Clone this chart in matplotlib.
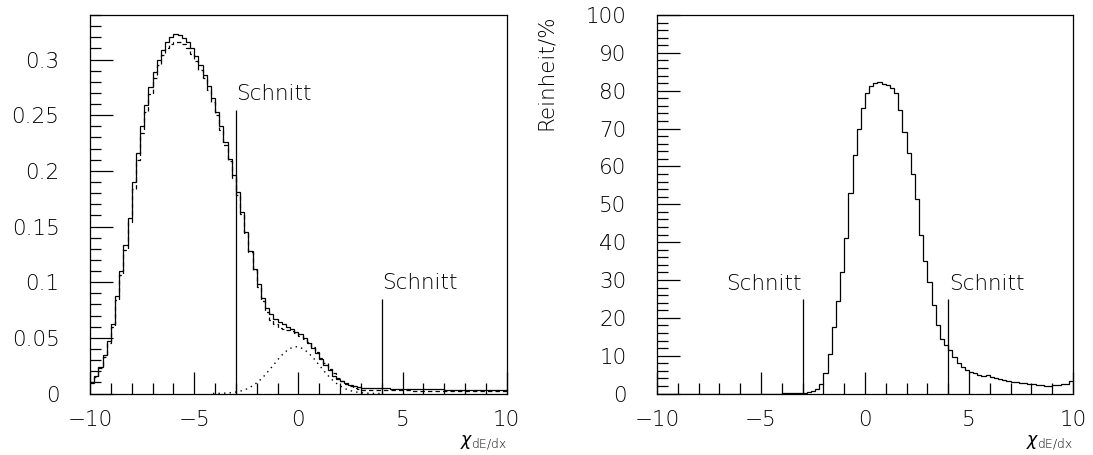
import numpy as np
import matplotlib
matplotlib.use("Agg")
import matplotlib.pyplot as plt
from matplotlib.ticker import MultipleLocator

plt.rcParams['font.family'] = ['DejaVu Sans']
plt.rcParams['font.weight'] = 'light'
plt.rcParams['mathtext.fontset'] = 'dejavusans'

# ---------------- data ----------------
x_range = (-10.0, 10.0)
n_bins = 100

# left panel: measured distribution (solid), total fit (dashed), second component (dotted)
left_data = [0.010, 0.016, 0.024, 0.035, 0.047, 0.062, 0.088, 0.110, 0.133, 0.158,
             0.190, 0.216, 0.240, 0.259, 0.275, 0.289, 0.300, 0.309, 0.316, 0.320,
             0.3225, 0.322, 0.3195, 0.3155, 0.310, 0.303, 0.295, 0.286, 0.276, 0.265,
             0.253, 0.240, 0.226, 0.211, 0.196, 0.181, 0.163, 0.145, 0.128, 0.112,
             0.098, 0.086, 0.077, 0.071, 0.067, 0.064, 0.062, 0.060, 0.058, 0.055,
             0.053, 0.050, 0.045, 0.041, 0.036, 0.031, 0.026, 0.021, 0.016, 0.013,
             0.011, 0.0093, 0.0078, 0.0066, 0.0057, 0.0050, 0.0048, 0.0047, 0.0046, 0.0046,
             0.0045, 0.0045, 0.0044, 0.0043, 0.0043, 0.0042, 0.0041, 0.0041, 0.0040, 0.0039,
             0.0039, 0.0038, 0.0037, 0.0037, 0.0036, 0.0035, 0.0035, 0.0034, 0.0033, 0.0033,
             0.0032, 0.0031, 0.0031, 0.0030, 0.0030, 0.0029, 0.0029, 0.0028, 0.0028, 0.0027]

left_fit = [0.009, 0.015, 0.023, 0.033, 0.045, 0.060, 0.084, 0.106, 0.129, 0.154,
            0.184, 0.210, 0.234, 0.253, 0.269, 0.283, 0.295, 0.304, 0.310, 0.314,
            0.316, 0.3155, 0.314, 0.310, 0.305, 0.299, 0.291, 0.283, 0.273, 0.262,
            0.250, 0.237, 0.223, 0.209, 0.194, 0.178, 0.161, 0.144, 0.127, 0.111,
            0.096, 0.083, 0.073, 0.066, 0.062, 0.059, 0.058, 0.057, 0.056, 0.054,
            0.052, 0.049, 0.046, 0.042, 0.037, 0.032, 0.027, 0.022, 0.018, 0.014,
            0.011, 0.0085, 0.0065, 0.0050, 0.0040, 0.0033, 0.0030, 0.0030, 0.0029, 0.0029,
            0.0029, 0.0028, 0.0028, 0.0028, 0.0027, 0.0027, 0.0027, 0.0026, 0.0026, 0.0026,
            0.0025, 0.0025, 0.0025, 0.0025, 0.0024, 0.0024, 0.0024, 0.0024, 0.0023, 0.0023,
            0.0023, 0.0023, 0.0023, 0.0022, 0.0022, 0.0022, 0.0022, 0.0022, 0.0022, 0.0022]

left_second = [0, 0, 0, 0, 0, 0, 0, 0, 0, 0,
               0, 0, 0, 0, 0, 0, 0, 0, 0, 0,
               0, 0, 0, 0, 0, 0, 0, 0, 0, 0.00006,
               0.0001, 0.0002, 0.00035, 0.0006, 0.0010, 0.0016, 0.0026, 0.0039, 0.0057, 0.0081,
               0.0110, 0.0146, 0.0187, 0.0232, 0.0278, 0.0323, 0.0362, 0.0393, 0.0413, 0.0420,
               0.0413, 0.0393, 0.0362, 0.0323, 0.0278, 0.0232, 0.0187, 0.0146, 0.0110, 0.0081,
               0.0057, 0.0039, 0.0026, 0.0016, 0.0010, 0.0006, 0.00035, 0.0002, 0.0001, 0.00006,
               0, 0, 0, 0, 0, 0, 0, 0, 0, 0,
               0, 0, 0, 0, 0, 0, 0, 0, 0, 0,
               0, 0, 0, 0, 0, 0, 0, 0, 0, 0]

# right panel: purity in %
right_purity = [0, 0, 0, 0, 0, 0, 0, 0, 0, 0,
                0, 0, 0, 0, 0, 0, 0, 0, 0, 0,
                0, 0, 0, 0, 0, 0, 0, 0, 0, 0,
                0.02, 0.04, 0.06, 0.1, 0.15, 0.25, 0.4, 0.7, 1.3, 2.6,
                5.5, 10.5, 17.5, 24.5, 32, 41, 53, 63, 70, 75.5,
                79.5, 81.3, 82.0, 82.3, 81.9, 81.5, 80.8, 79.5, 75, 69,
                63.5, 58, 51.5, 42, 35, 29.5, 23.5, 18, 14.5, 12.8,
                11.4, 9.6, 8.0, 7.0, 6.1, 5.6, 5.3, 5.0, 4.7, 4.9,
                4.4, 4.1, 3.9, 3.6, 3.4, 3.1, 3.0, 2.8, 2.7, 2.5,
                2.4, 2.3, 2.2, 2.1, 2.0, 2.3, 2.2, 2.4, 2.6, 3.4]

left_cuts = [-3.0, 4.0]
left_cut_heights = [0.255, 0.085]
right_cuts = [-3.0, 4.0]
right_cut_height = 25.0
cut_label = "Schnitt"

x_ticks = [-10, -5, 0, 5, 10]
x_ticklabels = ["\u221210", "\u22125", "0", "5", "10"]
left_yticks = [0, 0.05, 0.1, 0.15, 0.2, 0.25, 0.3]
left_yticklabels = ["0", "0.05", "0.1", "0.15", "0.2", "0.25", "0.3"]
right_yticks = [0, 10, 20, 30, 40, 50, 60, 70, 80, 90, 100]
right_yticklabels = [str(v) for v in right_yticks]
x_label = r"$\chi_{\mathrm{dE/dx}}$"
right_ylabel = "Reinheit/%"

# ---------------- figure ----------------
W, H = 1093, 455
fig = plt.figure(figsize=(W / 100, H / 100), dpi=100)
axL = fig.add_axes([90 / W, (H - 393.5) / H, 416.7 / W, 378.5 / H])
axR = fig.add_axes([657 / W, (H - 393.5) / H, 416 / W, 378.5 / H])

edges = np.linspace(x_range[0], x_range[1], n_bins + 1)
centers = 0.5 * (edges[:-1] + edges[1:])
LW = 0.9
FS = 15.5


def style(ax, yticks, ylabels, ymax, ymin_step):
    ax.set_xlim(*x_range)
    ax.set_ylim(0, ymax)
    ax.set_xticks(x_ticks)
    ax.set_xticklabels(x_ticklabels)
    ax.set_yticks(yticks)
    ax.set_yticklabels(ylabels)
    ax.xaxis.set_minor_locator(MultipleLocator(1))
    ax.yaxis.set_minor_locator(MultipleLocator(ymin_step))
    ax.tick_params(axis='both', which='both', direction='in', top=False, right=False,
                   width=0.9, colors='black', labelsize=FS)
    ax.tick_params(axis='y', which='major', length=16.5, pad=22)
    ax.tick_params(axis='y', which='minor', length=8)
    ax.tick_params(axis='x', which='major', length=16, pad=12)
    ax.tick_params(axis='x', which='minor', length=8)
    for s in ax.spines.values():
        s.set_linewidth(0.9)
        s.set_color('black')
    ax.text(1.0, -0.138, x_label, transform=ax.transAxes, ha='right',
            va='baseline', fontsize=12.5)


# left panel
axL.stairs(left_data, edges, baseline=None, color='black', lw=LW)
axL.stairs(left_fit, edges, baseline=None, color='black', lw=LW,
           linestyle=(0, (3.5, 2.5)))
sec = np.array(left_second)
m = sec > 0
axL.plot(centers[m], sec[m], color='black', lw=1.0, linestyle=(0, (1, 3)))
style(axL, left_yticks, left_yticklabels, 0.34, 0.01)
for xc, hc in zip(left_cuts, left_cut_heights):
    axL.vlines(xc, 0, hc, color='black', lw=LW)
    axL.text(xc + 0.03, hc + 0.009, cut_label, ha='left', va='baseline', fontsize=FS)

# right panel
axR.stairs(right_purity, edges, baseline=None, color='black', lw=LW)
style(axR, right_yticks, right_yticklabels, 100, 2)
for i, xc in enumerate(right_cuts):
    axR.vlines(xc, 0, right_cut_height, color='black', lw=LW)
    if i == 0:
        axR.text(xc - 0.05, right_cut_height + 2.3, cut_label, ha='right', va='baseline', fontsize=FS)
    else:
        axR.text(xc + 0.05, right_cut_height + 2.3, cut_label, ha='left', va='baseline', fontsize=FS)
fig.text(546 / W, 1 - 14 / H, right_ylabel, rotation=90, ha='center', va='top', fontsize=FS)

fig.savefig("out.png", dpi=100)
